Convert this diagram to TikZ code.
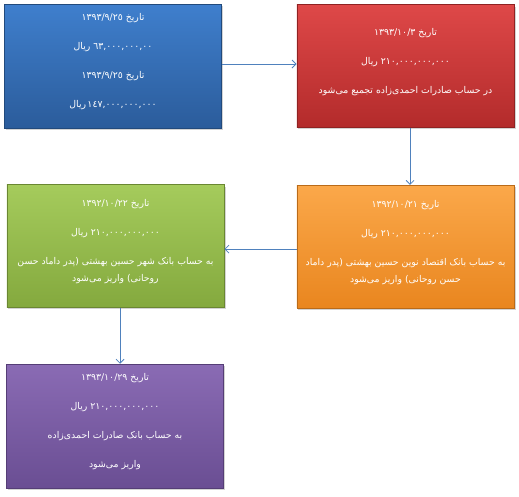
\documentclass[tikz,border=0pt]{standalone}
\usepackage{fontspec}
\newfontfamily\arabicfont[Script=Arabic]{DejaVu Sans}
\TeXXeTstate=1
\usetikzlibrary{arrows.meta,shadows}

\definecolor{blueTop}{HTML}{3F7FCD}
\definecolor{blueBot}{HTML}{2B5C9B}
\definecolor{redTop}{HTML}{DE4848}
\definecolor{redBot}{HTML}{B32B2B}
\definecolor{orangeTop}{HTML}{FBA84A}
\definecolor{orangeBot}{HTML}{E9861F}
\definecolor{greenTop}{HTML}{A5CB5C}
\definecolor{greenBot}{HTML}{84A93E}
\definecolor{purpleTop}{HTML}{8A6BB4}
\definecolor{purpleBot}{HTML}{6A4E93}
\definecolor{flowLine}{HTML}{4F81BD}

\newcommand\rtline[1]{\beginR #1\endR}

\tikzset{
  box/.style={inner sep=0pt, minimum width=163pt, minimum height=92pt,
    align=center, text=white, font=\arabicfont\fontsize{7}{13}\selectfont,
    text depth=8pt,
    drop shadow={shadow xshift=1pt, shadow yshift=-1.5pt, opacity=0.35}},
  bluebox/.style={box, top color=blueTop, bottom color=blueBot, draw=blueBot!80!black},
  redbox/.style={box, top color=redTop, bottom color=redBot, draw=redBot!80!black},
  orangebox/.style={box, top color=orangeTop, bottom color=orangeBot, draw=orangeBot!80!black},
  greenbox/.style={box, top color=greenTop, bottom color=greenBot, draw=greenBot!80!black},
  purplebox/.style={box, top color=purpleTop, bottom color=purpleBot, draw=purpleBot!80!black},
  flow/.style={draw=flowLine, line width=0.6pt, -{Straight Barb[length=3pt,width=6pt]}}
}

\begin{document}
\begin{tikzpicture}[x=0.75pt, y=-0.75pt]
    \useasboundingbox (0,0) rectangle (519,497);

    % Blue box
    \node[bluebox, minimum height=93pt] (first) at (113,66) {
      \rtline{تاریخ ١٣٩٣/٩/٢٥}\\[8.75pt]
      \rtline{٦٣,٠٠٠,٠٠٠,٠٠ ریال}\\[8.75pt]
      \rtline{تاریخ ١٣٩٣/٩/٢٥}\\[8.75pt]
      \rtline{١٤٧,٠٠٠,٠٠٠,٠٠٠\kern1pt ریال}};

    % Red box
    \node[redbox] (collect) at (405.5,66) {
      \rtline{تاریخ ١٣٩٣/١٠/٣}\\[8.75pt]
      \rtline{٢١٠,٠٠٠,٠٠٠,٠٠٠ ریال}\\[8.75pt]
      \rtline{در حساب صادرات احمدی‌زاده تجمیع می‌شود}};

    % Orange box
    \node[orangebox] (eghtesad) at (405.5,246.5) {
      \rtline{تاریخ ١٣٩٢/١٠/٢١}\\[8.75pt]
      \rtline{٢١٠,٠٠٠,٠٠٠,٠٠٠ ریال}\\[8.75pt]
      \rtline{به حساب بانک اقتصاد نوین حسین بهشتی (پدر داماد}\\
      \rtline{حسن روحانی) واریز می‌شود}};

    % Green box
    \node[greenbox] (shahr) at (115.5,246) {
      \rtline{تاریخ ١٣٩٢/١٠/٢٢}\\[8.75pt]
      \rtline{٢١٠,٠٠٠,٠٠٠,٠٠٠ ریال}\\[8.75pt]
      \rtline{به حساب بانک شهر حسین بهشتی (پدر داماد حسن}\\
      \rtline{روحانی) واریز می‌شود}};

    % Purple box
    \node[purplebox, minimum height=93pt] (saderat) at (115,426) {
      \rtline{تاریخ ١٣٩٣/١٠/٢٩}\\[8.75pt]
      \rtline{٢١٠,٠٠٠,٠٠٠,٠٠٠ ریال}\\[8.75pt]
      \rtline{به حساب بانک صادرات احمدی‌زاده}\\[8.75pt]
      \rtline{واریز می‌شود}};

    % Flow
    \draw[flow] ([yshift=1.5pt]first.east) -- ([yshift=1.5pt]first.east -| collect.west);
    \draw[flow] ([xshift=3.4pt]collect.south) -- ([xshift=3.4pt]collect.south |- eghtesad.north);
    \draw[flow] ([yshift=-2pt]eghtesad.west) -- ([yshift=-2pt]eghtesad.west -| shahr.east);
    \draw[flow] ([xshift=3.4pt]shahr.south) -- ([xshift=3.4pt]shahr.south |- saderat.north);
\end{tikzpicture}
\end{document}
